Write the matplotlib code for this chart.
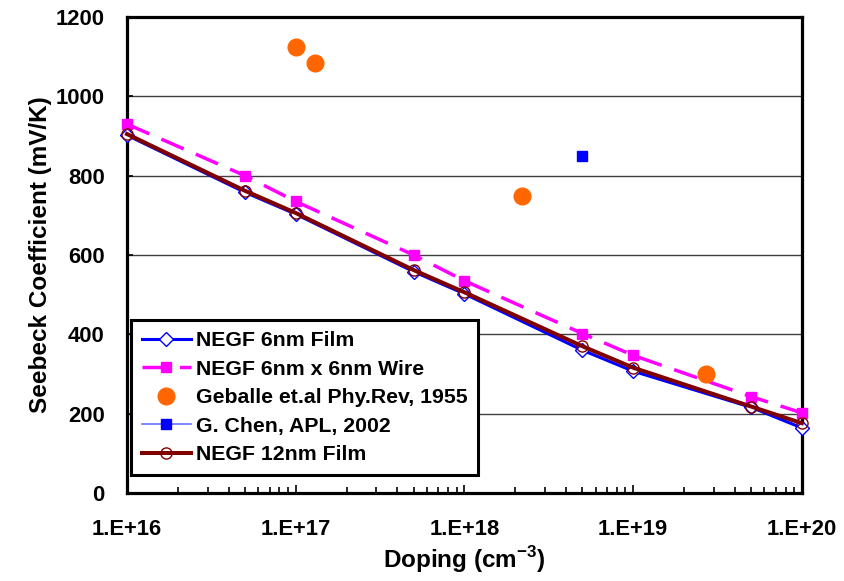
import numpy as np
import matplotlib.pyplot as plt
from matplotlib.ticker import FixedLocator, LogLocator, NullFormatter

plt.rcParams['font.family'] = 'Liberation Sans'
plt.rcParams['font.weight'] = 'bold'
plt.rcParams['mathtext.fontset'] = 'custom'
plt.rcParams['mathtext.bf'] = 'Liberation Sans:bold'
plt.rcParams['mathtext.rm'] = 'Liberation Sans:bold'

# doping levels (cm^-3) for the NEGF simulations
doping = [1e16, 5e16, 1e17, 5e17, 1e18, 5e18, 1e19, 5e19, 1e20]
film_6nm = [902, 758, 703, 558, 502, 360, 307, 216, 164]
wire_6nm = [930, 800, 735, 600, 535, 402, 347, 243, 202]
film_12nm = [905, 762, 706, 562, 506, 370, 316, 218, 176]

# measured values
geballe_doping = [1e17, 1.3e17, 2.2e18, 2.7e19]
geballe_seebeck = [1125, 1084, 750, 300]
chen_doping = [5e18]
chen_seebeck = [850]

x_ticks = [1e16, 1e17, 1e18, 1e19, 1e20]
x_labels = ['1.E+16', '1.E+17', '1.E+18', '1.E+19', '1.E+20']
y_ticks = list(range(0, 1201, 200))

fig = plt.figure(figsize=(8.45, 5.81), dpi=100)
ax = fig.add_axes([0.1503, 0.1515, 0.7987, 0.8192])

for yv in y_ticks[1:-1]:
    ax.axhline(yv, color='0.25', lw=1.0, zorder=0)

ax.plot(doping, film_6nm, color='#0000FF', lw=2.2, marker='D', ms=7,
        mfc='white', mec='#0000FF', mew=1.0, label='NEGF 6nm Film',
        zorder=3, clip_on=False)
ax.plot(doping, wire_6nm, color='#FF00FF', lw=2.5, ls=(0, (7, 3.8)), marker='s', ms=7,
        mfc='#FF00FF', mec='#FF00FF', label='NEGF 6nm x 6nm Wire',
        zorder=3, clip_on=False)
ax.plot(geballe_doping, geballe_seebeck, ls='none', marker='o', ms=12,
        color='#FF6600', label='Geballe et.al Phy.Rev, 1955', zorder=3)
ax.plot(chen_doping, chen_seebeck, color='#7070FF', lw=1.2, marker='s', ms=7,
        mfc='#0000FF', mec='#0000FF', label='G. Chen, APL, 2002', zorder=3)
ax.plot(doping, film_12nm, color='#800000', lw=2.9, marker='o', ms=8,
        mfc='none', mec='#800000', mew=1.0, label='NEGF 12nm Film',
        zorder=4, clip_on=False)

ax.set_xscale('log')
ax.set_xlim(1e16, 1e20)
ax.set_ylim(0, 1200)
ax.xaxis.set_major_locator(FixedLocator(x_ticks))
ax.xaxis.set_minor_locator(LogLocator(base=10, subs=np.arange(2, 10)))
ax.xaxis.set_minor_formatter(NullFormatter())
ax.set_xticklabels(x_labels, family='Liberation Sans', fontweight='bold')
ax.set_yticks(y_ticks)
ax.set_yticklabels([str(v) for v in y_ticks], family='Liberation Sans', fontweight='bold')

ax.tick_params(axis='both', which='both', direction='in', labelsize=15.8, width=1.2)
ax.tick_params(axis='x', which='major', length=6, pad=19)
ax.tick_params(axis='x', which='minor', length=4)
ax.tick_params(axis='y', which='major', length=4, pad=16)

for sp in ax.spines.values():
    sp.set_linewidth(2.3)
    sp.set_color('black')

ax.set_xlabel('Doping (cm$^{-3}$)', family='Liberation Sans', fontsize=17.5,
              fontweight='bold', labelpad=3)
ax.set_ylabel('Seebeck Coefficient (mV/K)', family='Liberation Sans', fontsize=17.5,
              fontweight='bold', labelpad=3)

leg = ax.legend(loc='lower left', bbox_to_anchor=(0.006, 0.038), borderaxespad=0,
                fancybox=False, frameon=True,
                prop={'family': 'Liberation Sans', 'size': 15.3, 'weight': 'bold'},
                handlelength=2.3, handletextpad=0.25, labelspacing=0.45, borderpad=0.5)
leg.get_frame().set_edgecolor('black')
leg.get_frame().set_linewidth(2.2)
leg.get_frame().set_alpha(1)

fig.savefig('out.png', dpi=100)
